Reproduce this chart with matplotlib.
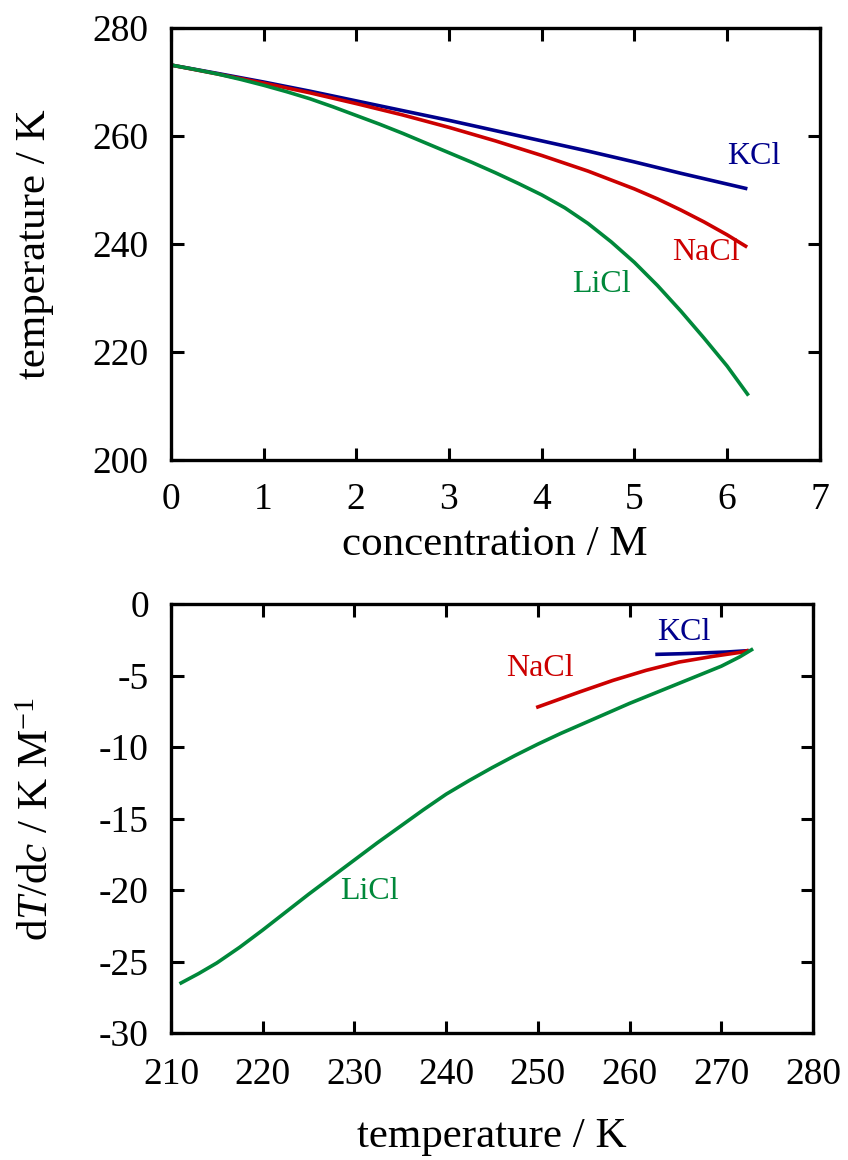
import matplotlib
matplotlib.use("Agg")
import matplotlib.pyplot as plt
import numpy as np

# %%
# freezing point of aqueous salt solutions
conc_kcl = [0, 0.5, 1, 1.5, 2, 2.5, 3, 3.5, 4, 4.5, 5, 5.5, 6, 6.2]
temp_kcl = [273.15, 271.6, 270.0, 268.3, 266.5, 264.7, 262.9, 261.0,
            259.1, 257.2, 255.2, 253.1, 251.1, 250.3]

conc_nacl = [0, 0.5, 1, 1.5, 2, 2.5, 3, 3.5, 4, 4.5, 5, 5.25, 5.5,
             5.75, 6, 6.2]
temp_nacl = [273.15, 271.5, 269.8, 268.0, 266.0, 263.9, 261.6, 259.1,
             256.4, 253.5, 250.2, 248.35, 246.3, 244.1, 241.7, 239.6]

conc_licl = [0, 0.25, 0.5, 0.75, 1, 1.25, 1.5, 1.75, 2, 2.25, 2.5, 2.75,
             3, 3.25, 3.5, 3.75, 4, 4.25, 4.5, 4.75, 5, 5.25, 5.5, 5.75,
             6, 6.22]
temp_licl = [273.15, 272.35, 271.5, 270.5, 269.4, 268.2, 266.9, 265.4,
             263.8, 262.2, 260.5, 258.7, 256.9, 255.1, 253.2, 251.2,
             249.1, 246.7, 243.8, 240.4, 236.6, 232.3, 227.6, 222.6,
             217.4, 212.2]

# slope dT/dc against temperature
slope_T_kcl = [263.0, 265.5, 268.0, 270.5, 272.8]
slope_kcl = [-3.52, -3.48, -3.42, -3.36, -3.27]

slope_T_nacl = [250.0, 254.55, 258.2, 261.8, 265.4, 269.1, 272.3, 272.8]
slope_nacl = [-7.2, -6.15, -5.34, -4.64, -4.06, -3.66, -3.36, -3.27]

slope_T_licl = [211.1, 213.0, 215.0, 217.5, 220.0, 222.5, 225.0, 227.5,
                230.0, 232.5, 235.0, 237.5, 240.0, 242.5, 245.0, 247.5,
                250.0, 252.5, 255.0, 257.5, 260.0, 262.5, 265.0, 267.5,
                270.0, 272.0, 273.3]
slope_licl = [-26.5, -25.85, -25.1, -24.0, -22.8, -21.55, -20.3, -19.1,
              -17.9, -16.7, -15.55, -14.4, -13.3, -12.35, -11.45, -10.6,
              -9.8, -9.05, -8.35, -7.65, -6.95, -6.3, -5.65, -5.0,
              -4.35, -3.7, -3.2]

c_kcl = '#00008C'
c_nacl = '#CC0000'
c_licl = '#00883A'

# %%
plt.rcParams['font.family'] = ['Liberation Serif', 'DejaVu Serif']
plt.rcParams['mathtext.fontset'] = 'custom'
plt.rcParams['mathtext.rm'] = 'Liberation Serif'
plt.rcParams['mathtext.it'] = 'Liberation Serif:italic'
plt.rcParams['axes.unicode_minus'] = False

fig = plt.figure(figsize=(8.48, 11.6), dpi=100)
ax1 = fig.add_axes([170.8 / 848, 1 - 460 / 1160, 649 / 848, 432 / 1160])
ax2 = fig.add_axes([171 / 848, 1 - 1033 / 1160, 642 / 848, 429 / 1160])

for ax in (ax1, ax2):
    for sp in ax.spines.values():
        sp.set_linewidth(2.4)
    ax.tick_params(direction='in', length=9, width=2.2, top=True,
                   right=True, labelsize=27)

lw = 2.6
ax1.plot(conc_kcl, temp_kcl, color=c_kcl, lw=lw)
ax1.plot(conc_nacl, temp_nacl, color=c_nacl, lw=lw)
ax1.plot(conc_licl, temp_licl, color=c_licl, lw=lw)
ax1.set_xlim(0, 7)
ax1.set_ylim(200, 280)
ax1.set_xticks(np.arange(0, 8, 1))
ax1.set_yticks(np.arange(200, 281, 20))
ax1.tick_params(axis='x', pad=16)
ax1.tick_params(axis='y', pad=16)
ax1.set_xlabel('concentration / M', fontsize=31, labelpad=6)
ax1.set_ylabel('temperature / K', fontsize=31, labelpad=28)
ax1.text(6.29, 256.2, 'KCl', color=c_kcl, fontsize=23,
         ha='center', va='center')
ax1.text(5.77, 238.5, 'NaCl', color=c_nacl, fontsize=23,
         ha='center', va='center')
ax1.text(4.65, 232.5, 'LiCl', color=c_licl, fontsize=23,
         ha='center', va='center')

ax2.plot(slope_T_kcl, slope_kcl, color=c_kcl, lw=lw)
ax2.plot(slope_T_nacl, slope_nacl, color=c_nacl, lw=lw)
ax2.plot(slope_T_licl, slope_licl, color=c_licl, lw=lw)
ax2.set_xlim(210, 280)
ax2.set_ylim(-30, 0)
ax2.set_xticks(np.arange(210, 281, 10))
ax2.set_yticks(np.arange(-30, 1, 5))
ax2.tick_params(axis='x', pad=18)
ax2.tick_params(axis='y', pad=16)
ax2.set_xlabel('temperature / K', fontsize=31, labelpad=18)
ax2.set_ylabel(r'd$T$/d$c$ / K M$^{-1}$', fontsize=31, labelpad=30)
ax2.text(265.9, -2.02, 'KCl', color=c_kcl, fontsize=23,
         ha='center', va='center')
ax2.text(250.25, -4.53, 'NaCl', color=c_nacl, fontsize=23,
         ha='center', va='center')
ax2.text(231.6, -20.1, 'LiCl', color=c_licl, fontsize=23,
         ha='center', va='center')

fig.savefig('out.png', dpi=100)
